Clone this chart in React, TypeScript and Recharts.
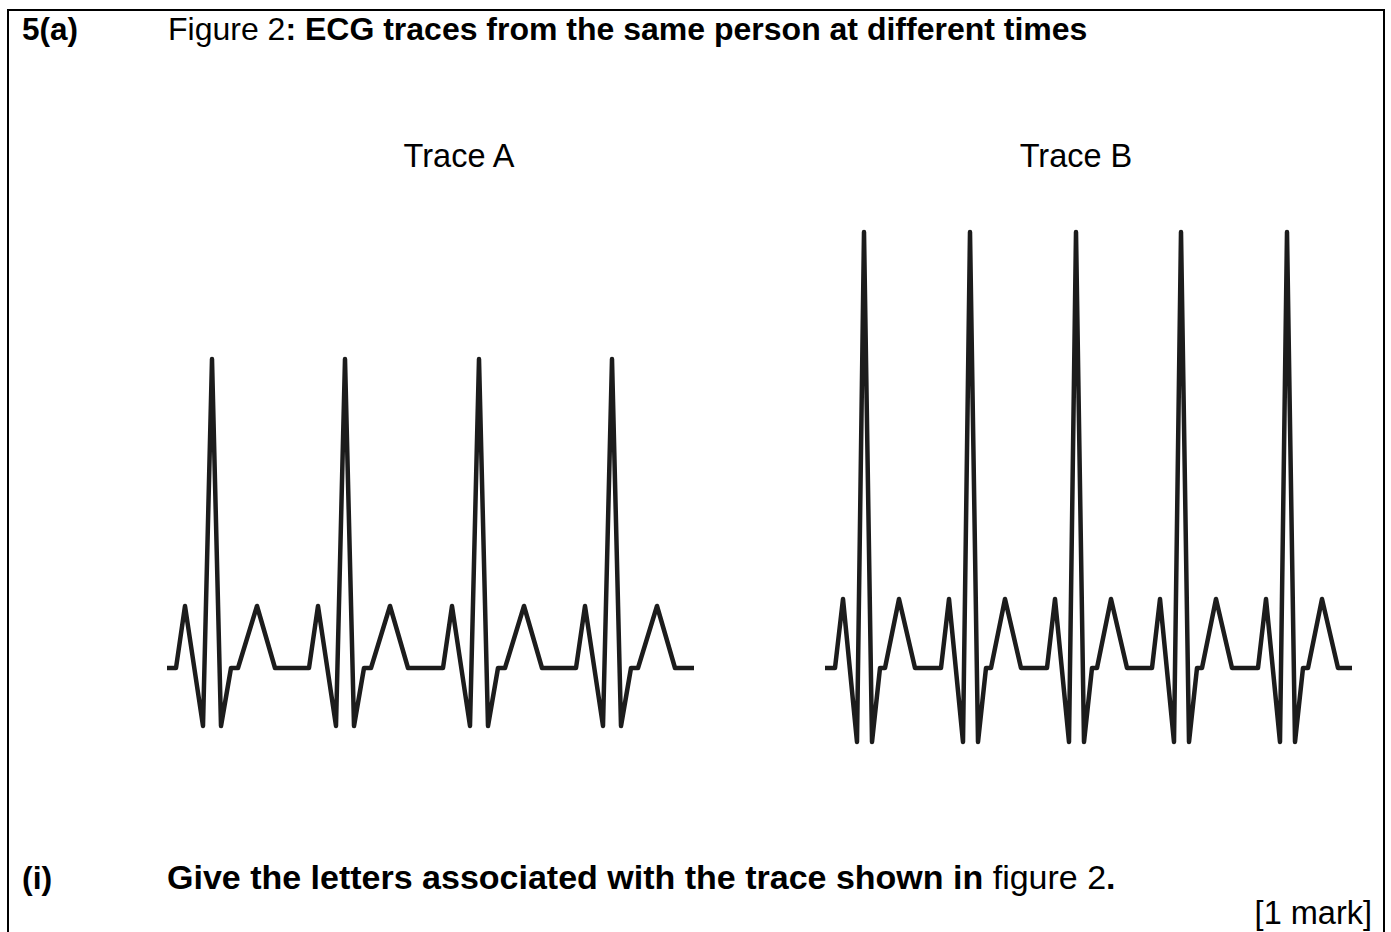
import React from "react";
import { LineChart, Line, XAxis, YAxis } from "recharts";

// Trace A: time (arbitrary units) and voltage (arbitrary units)
const timeA = [
  0, 9, 18, 36, 45, 54, 64, 71, 90, 108,
  142, 151, 169, 178, 187, 197, 204, 223, 241,
  276, 285, 303, 312, 321, 331, 338, 357, 375,
  409, 418, 436, 445, 454, 464, 471, 490, 508, 527,
];
const voltageA = [
  0, 0, 0.62, -0.58, 3.09, -0.58, 0, 0, 0.62, 0,
  0, 0.62, -0.58, 3.09, -0.58, 0, 0, 0.62, 0,
  0, 0.62, -0.58, 3.09, -0.58, 0, 0, 0.62, 0,
  0, 0.62, -0.58, 3.09, -0.58, 0, 0, 0.62, 0, 0,
];

// Trace B: time and voltage
const timeB = [
  0, 10, 18, 32, 39, 47, 55, 60, 74, 90,
  116, 124, 138, 145, 153, 161, 166, 180, 196,
  222, 230, 244, 251, 259, 267, 272, 286, 302,
  327, 335, 349, 356, 364, 372, 377, 391, 407,
  433, 441, 455, 462, 470, 478, 483, 497, 513, 527,
];
const voltageB = [
  0, 0, 0.69, -0.74, 4.36, -0.74, 0, 0, 0.69, 0,
  0, 0.69, -0.74, 4.36, -0.74, 0, 0, 0.69, 0,
  0, 0.69, -0.74, 4.36, -0.74, 0, 0, 0.69, 0,
  0, 0.69, -0.74, 4.36, -0.74, 0, 0, 0.69, 0,
  0, 0.69, -0.74, 4.36, -0.74, 0, 0, 0.69, 0, 0,
];

const traceLabels = ["Trace A", "Trace B"];

const dataA = timeA.map((t, i) => ({ t, v: voltageA[i] }));
const dataB = timeB.map((t, i) => ({ t, v: voltageB[i] }));

const FONT = "'Liberation Sans', Arial, sans-serif";
const INK = "#1c1c1c";

function Trace({ data, left }: { data: { t: number; v: number }[]; left: number }) {
  return (
    <div style={{ position: "absolute", left, top: 208 }}>
      <LineChart width={547} height={570} data={data} margin={{ top: 10, right: 10, bottom: 10, left: 10 }}>
        <XAxis dataKey="t" type="number" domain={[0, 527]} hide />
        <YAxis type="number" domain={[-1, 4.5]} hide />
        <Line
          type="linear"
          dataKey="v"
          stroke={INK}
          strokeWidth={4.5}
          strokeLinejoin="round"
          strokeLinecap="butt"
          dot={false}
          activeDot={false}
          isAnimationActive={false}
        />
      </LineChart>
    </div>
  );
}

export default function App() {
  return (
    <div
      style={{
        position: "absolute",
        left: 0,
        top: 0,
        width: 1391,
        height: 932,
        overflow: "hidden",
        background: "#fff",
      }}
    >
      <div
        style={{
          position: "absolute",
          left: 7,
          top: 9,
          width: 1378,
          height: 1000,
          border: "2px solid #000",
          boxSizing: "border-box",
        }}
      />
      <svg
        width={1391}
        height={932}
        style={{ position: "absolute", left: 0, top: 0 }}
        fontFamily={FONT}
        fill="#000"
      >
        <text x={22} y={40} fontWeight="bold" fontSize={31.5}>5(a)</text>
        <text x={168} y={40} fontSize={32}>
          <tspan>Figure 2</tspan>
          <tspan fontWeight="bold">: ECG traces from the same person at different times</tspan>
        </text>
        <text x={459} y={167} textAnchor="middle" fontSize={32.5}>{traceLabels[0]}</text>
        <text x={1076} y={167} textAnchor="middle" fontSize={32.5}>{traceLabels[1]}</text>
        <text x={22} y={889} fontWeight="bold" fontSize={32}>(i)</text>
        <text x={167} y={889} fontSize={34}>
          <tspan fontWeight="bold">Give the letters associated with the trace shown in </tspan>
          <tspan>figure 2</tspan>
          <tspan fontWeight="bold">.</tspan>
        </text>
        <text x={1372} y={924} textAnchor="end" fontSize={32.5}>[1 mark]</text>
      </svg>
      <Trace data={dataA} left={157} />
      <Trace data={dataB} left={815} />
    </div>
  );
}
